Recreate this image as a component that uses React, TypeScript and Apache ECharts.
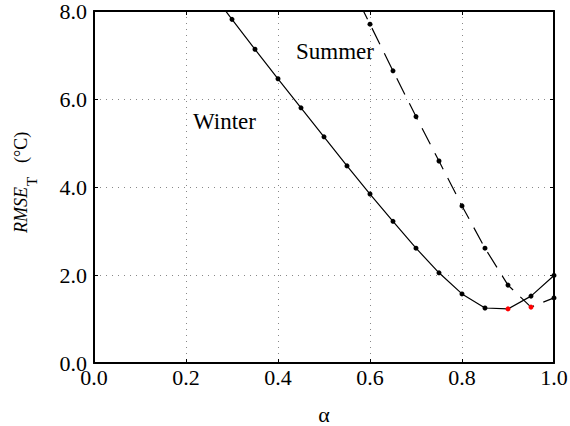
import React, { useEffect, useRef } from "react";
import * as echarts from "echarts";

const winterAlpha = [0.25, 0.3, 0.35, 0.4, 0.45, 0.5, 0.55, 0.6, 0.65, 0.7, 0.75, 0.8, 0.85, 0.9, 0.95, 1.0];
const winterRmse = [8.5, 7.81, 7.13, 6.46, 5.8, 5.14, 4.48, 3.84, 3.22, 2.61, 2.05, 1.57, 1.25, 1.23, 1.52, 1.99];
const winterBestAlpha = 0.9;

const summerAlpha = [0.55, 0.6, 0.65, 0.7, 0.75, 0.8, 0.85, 0.9, 0.95, 1.0];
const summerRmse = [8.75, 7.7, 6.64, 5.6, 4.59, 3.57, 2.61, 1.77, 1.27, 1.48];
const summerBestAlpha = 0.95;

const FAMILY = "Liberation Serif";
const FONT = "'Liberation Serif', serif";

function buildData(xs: number[], ys: number[], best: number) {
  return xs.map((x, i) =>
    x === best
      ? { value: [x, ys[i]], itemStyle: { color: "#ff0000" } }
      : { value: [x, ys[i]] }
  );
}

export default function App() {
  const ref = useRef<HTMLDivElement>(null);
  useEffect(() => {
    document.body.style.margin = "0";
    if (!ref.current) return;
    const chart = echarts.init(ref.current, undefined, { renderer: "svg" });
    const axisCommon = {
      type: "value" as const,
      axisLine: { show: true, onZero: false, lineStyle: { color: "#000", width: 2 } },
      axisTick: { show: true, inside: true, length: 4, lineStyle: { color: "#000", width: 1 } },
    };
    chart.setOption({
      animation: false,
      backgroundColor: "#fff",
      textStyle: { fontFamily: FAMILY },
      grid: {
        left: 94,
        right: 16,
        top: 11,
        bottom: 63,
        containLabel: false,
        outerBoundsMode: "none",
      },
      xAxis: [
        {
          ...axisCommon,
          min: 0,
          max: 1,
          interval: 0.2,
          position: "bottom",
          name: "α",
          nameLocation: "middle",
          nameGap: 40,
          nameTextStyle: { fontFamily: FAMILY, fontSize: 22, color: "#000" },
          axisLabel: {
            formatter: (v: number) => v.toFixed(1),
            fontFamily: FAMILY,
            fontSize: 22,
            color: "#000",
            margin: 3,
          },
          splitLine: { show: true, lineStyle: { color: "#888", type: [1, 5], width: 1 } },
        },
        {
          ...axisCommon,
          min: 0,
          max: 1,
          interval: 0.2,
          position: "top",
          axisLabel: { show: false },
          splitLine: { show: false },
        },
      ],
      yAxis: [
        {
          ...axisCommon,
          min: 0,
          max: 8,
          interval: 2,
          position: "left",
          axisLabel: {
            formatter: (v: number) => v.toFixed(1),
            fontFamily: FAMILY,
            fontSize: 22,
            color: "#000",
            margin: 7,
          },
          splitLine: { show: true, lineStyle: { color: "#888", type: [1, 5], width: 1 } },
        },
        {
          ...axisCommon,
          min: 0,
          max: 8,
          interval: 2,
          position: "right",
          axisLabel: { show: false },
          splitLine: { show: false },
        },
      ],
      series: [
        {
          name: "Winter",
          type: "line",
          data: buildData(winterAlpha, winterRmse, winterBestAlpha),
          clip: true,
          symbol: "circle",
          symbolSize: 5,
          showAllSymbol: true,
          lineStyle: { color: "#000", width: 1.2 },
          itemStyle: { color: "#000" },
        },
        {
          name: "Summer",
          type: "line",
          data: buildData(summerAlpha, summerRmse, summerBestAlpha),
          clip: true,
          symbol: "circle",
          symbolSize: 5,
          showAllSymbol: true,
          lineStyle: { color: "#000", width: 1.2, type: [18, 10] },
          itemStyle: { color: "#000" },
        },
      ],
      graphic: [
        {
          type: "text",
          left: 193,
          top: 110,
          style: { text: "Winter", font: `23px ${FONT}`, fill: "#000" },
        },
        {
          type: "text",
          left: 296,
          top: 40,
          style: { text: "Summer", font: `23px ${FONT}`, fill: "#000" },
        },
        {
          type: "group",
          x: 27,
          y: 233,
          rotation: Math.PI / 2,
          children: [
            {
              type: "text",
              x: 0,
              y: -6.5,
              style: {
                text: "RMSE",
                font: `italic 18px ${FONT}`,
                fill: "#000",
                align: "left",
                verticalAlign: "middle",
              },
            },
            {
              type: "text",
              x: 47,
              y: 5,
              style: {
                text: "T",
                font: `15px ${FONT}`,
                fill: "#000",
                align: "left",
                verticalAlign: "middle",
              },
            },
            {
              type: "text",
              x: 70,
              y: -6.5,
              style: {
                text: "(°C)",
                font: `18px ${FONT}`,
                fill: "#000",
                align: "left",
                verticalAlign: "middle",
              },
            },
          ],
        },
      ],
    });
    return () => chart.dispose();
  }, []);
  return <div ref={ref} style={{ width: 570, height: 426 }} />;
}
